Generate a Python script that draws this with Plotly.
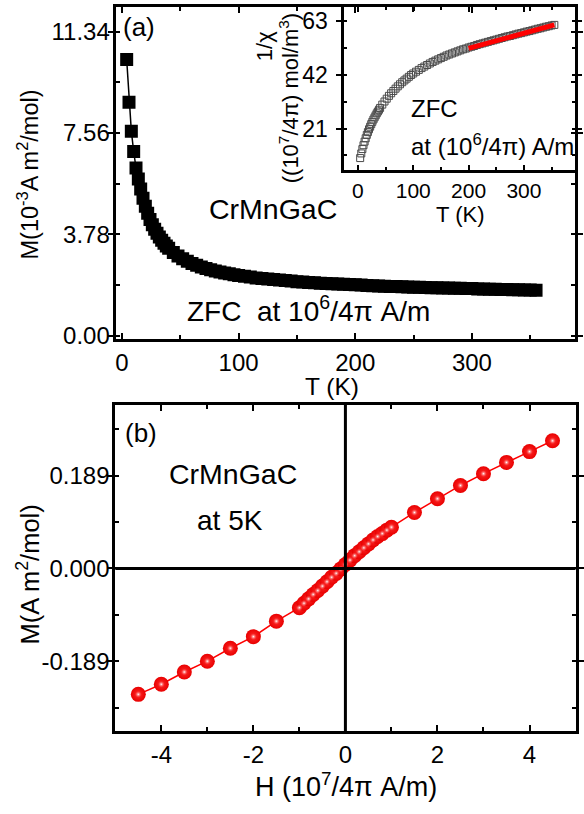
import plotly.graph_objects as go

W, H = 584, 814
FONT = "Liberation Sans, Arial, sans-serif"

# ---------------- (a) ZFC magnetization vs temperature ----------------
temp_k = [4, 6, 8, 10, 12, 14, 16, 18, 20, 22, 24, 26, 28, 30, 32, 34, 36, 38, 40,
          44, 48, 52, 56, 60, 64, 68, 72, 76, 80, 84, 88, 92, 96, 100,
          105, 110, 115, 120, 125, 130, 135, 140, 145, 150, 155, 160, 165, 170, 175,
          180, 185, 190, 195, 200, 205, 210, 215, 220, 225, 230, 235, 240, 245, 250,
          255, 260, 265, 270, 275, 280, 285, 290, 295, 300, 305, 310, 315, 320, 325,
          330, 335, 340, 345, 350, 355]
m_zfc = [10.30, 8.71, 7.63, 6.87, 6.26, 5.85, 5.47, 5.13, 4.83, 4.57, 4.34, 4.14, 3.97,
         3.82, 3.68, 3.56, 3.45, 3.35, 3.26,
         3.11, 2.98, 2.87, 2.78, 2.70, 2.63, 2.57, 2.51, 2.46, 2.42, 2.38, 2.34, 2.31,
         2.28, 2.25,
         2.22, 2.19, 2.16, 2.14, 2.12, 2.10, 2.08, 2.06, 2.04, 2.02, 2.01, 1.99, 1.98,
         1.96, 1.95, 1.94, 1.93, 1.92, 1.91, 1.90, 1.89, 1.88, 1.87, 1.86, 1.85, 1.84,
         1.84, 1.83, 1.82, 1.81, 1.81, 1.80, 1.79, 1.79, 1.78, 1.78, 1.77, 1.77, 1.76,
         1.76, 1.75, 1.75, 1.74, 1.74, 1.73, 1.73, 1.72, 1.72, 1.71, 1.71, 1.70]

# inset: inverse susceptibility and the high-temperature linear fit
inv_chi = [9.5, 11.3, 13.0, 14.5, 15.9, 17.2, 18.5, 19.6, 20.7, 21.7, 22.7, 23.6, 24.5,
           25.3, 26.1, 26.9, 27.6, 28.3, 29.0,
           30.3, 31.5, 32.6, 33.7, 34.7, 35.6, 36.5, 37.4, 38.2, 39.0, 39.7, 40.4, 41.1,
           41.8, 42.4,
           43.1, 43.8, 44.5, 45.1, 45.7, 46.3, 46.9, 47.4, 47.9, 48.4, 48.9, 49.4, 49.8,
           50.2, 50.6, 51.0, 51.4, 51.8, 52.1, 52.5, 52.8, 53.1, 53.5, 53.8, 54.1, 54.4,
           54.7, 55.0, 55.3, 55.6, 55.9, 56.2, 56.5, 56.8, 57.0, 57.3, 57.6, 57.9, 58.1,
           58.4, 58.7, 58.9, 59.2, 59.5, 59.8, 60.0, 60.3, 60.6, 60.8, 61.1, 61.3]
fit_t = [200, 355]
fit_inv_chi = [52.2, 61.3]

# ---------------- (b) M(H) loop at 5 K ----------------
field_h = [-4.5, -4.0, -3.5, -3.0, -2.5, -2.0, -1.5,
           -1.0, -0.9, -0.8, -0.7, -0.6, -0.5, -0.4, -0.3, -0.2, -0.1,
           0.0, 0.1, 0.2, 0.3, 0.4, 0.5, 0.6, 0.7, 0.8, 0.9, 1.0,
           1.5, 2.0, 2.5, 3.0, 3.5, 4.0, 4.5]
m_h = [-0.2565, -0.236, -0.211, -0.189, -0.1626, -0.139, -0.1074,
       -0.080, -0.071, -0.062, -0.053, -0.045, -0.036, -0.027, -0.018, -0.010, -0.001,
       0.008, 0.017, 0.026, 0.034, 0.042, 0.050, 0.058, 0.065, 0.071, 0.078, 0.084,
       0.114, 0.142, 0.169, 0.193, 0.216, 0.238, 0.260]

# tick labels
a_xticks = [0, 100, 200, 300]
a_yticks = [0.0, 3.78, 7.56, 11.34]
a_yticktext = ["0.00", "3.78", "7.56", "11.34"]
ins_xticks = [0, 100, 200, 300]
ins_yticks = [21, 42, 63]
b_xticks = [-4, -2, 0, 2, 4]
b_xticktext = ["-4", "-2", "0", "2", "4"]
b_yticks = [-0.189, 0.0, 0.189]
b_yticktext = ["-0.189", "0.000", "0.189"]


def px_x(p):
    return p / W


def px_y(p):
    return 1 - p / H


fig = go.Figure()

# main ZFC curve
fig.add_trace(go.Scatter(
    x=temp_k, y=m_zfc, xaxis="x", yaxis="y", mode="lines+markers",
    line=dict(color="black", width=1.5),
    marker=dict(symbol="square", size=13, color="black", line=dict(width=0)),
    showlegend=False))

# inset 1/chi
fig.add_trace(go.Scatter(
    x=temp_k, y=inv_chi, xaxis="x2", yaxis="y2", mode="markers",
    marker=dict(symbol="square-open", size=7, color="#4a4a4a", line=dict(width=1)),
    showlegend=False))
fig.add_trace(go.Scatter(
    x=fit_t, y=fit_inv_chi, xaxis="x2", yaxis="y2", mode="lines",
    line=dict(color="#ff0000", width=5), showlegend=False))

# M(H) balls (radial gradient: marker colour at the rim, gradient colour at the centre)
fig.add_trace(go.Scatter(
    x=field_h, y=m_h, xaxis="x3", yaxis="y3", mode="lines+markers",
    line=dict(color="#ff0000", width=1.5),
    marker=dict(size=15, color="#e80000", line=dict(width=0),
                gradient=dict(type="radial", color="#ff2a2a")),
    showlegend=False))
# specular highlight drawn on a copy of the axes shifted a few pixels up-right
fig.add_trace(go.Scatter(
    x=field_h, y=m_h, xaxis="x4", yaxis="y4", mode="markers",
    marker=dict(size=7, color="rgba(255,60,60,0)", line=dict(width=0),
                gradient=dict(type="radial", color="white")),
    showlegend=False, hoverinfo="skip"))

axis_common = dict(
    showline=True, linewidth=3, linecolor="black", mirror="allticks",
    showgrid=False, zeroline=False, ticks="inside", ticklen=6, tickwidth=2,
    tickcolor="black", tickfont=dict(family=FONT, size=24, color="black"),
)

# panel (a)
a_left, a_right, a_top, a_bot = 117, 581.5, 7, 343
fig.update_layout(
    xaxis=dict(axis_common, domain=[px_x(a_left), px_x(a_right)], range=[-5.5, 388],
               tickmode="array", tickvals=a_xticks, anchor="y",
               minor=dict(dtick=50, tick0=0, ticks="inside", ticklen=4, tickwidth=2,
                          tickcolor="black")),
    yaxis=dict(axis_common, domain=[px_y(a_bot), px_y(a_top)], range=[-0.11, 12.26],
               tickmode="array", tickvals=a_yticks, ticktext=a_yticktext, anchor="x",
               ticks="outside", ticklen=5, ticklabelstandoff=-7,
               minor=dict(dtick=1.89, tick0=0, ticks="inside", ticklen=4, tickwidth=2,
                          tickcolor="black")),
)

# inset
i_left, i_right, i_top, i_bot = 348.3, 581.5, 7, 172
ins_common = dict(axis_common, linewidth=2.5, ticklen=5,
                  tickfont=dict(family=FONT, size=21, color="black"))
fig.update_layout(
    xaxis2=dict(ins_common, domain=[px_x(i_left), px_x(i_right)], range=[-25, 391.5],
                tickmode="array", tickvals=ins_xticks, anchor="y2",
                minor=dict(dtick=50, tick0=0, ticks="inside", ticklen=3, tickwidth=2,
                           tickcolor="black")),
    yaxis2=dict(ins_common, domain=[px_y(i_bot), px_y(i_top)], range=[4.9, 68.3],
                tickmode="array", tickvals=ins_yticks, anchor="x2", ticks="outside",
                ticklabelstandoff=4,
                tickfont=dict(family=FONT, size=23, color="black"),
                minor=dict(dtick=10.5, tick0=0, ticks="inside", ticklen=3, tickwidth=2,
                           tickcolor="black")),
)

# panel (b)
b_left, b_right, b_top, b_bot = 116.7, 582.5, 410, 740
b_xrange = [-5, 5]
b_yrange = [-0.331, 0.333]
fig.update_layout(
    xaxis3=dict(axis_common, domain=[px_x(b_left), px_x(b_right)], range=b_xrange,
                tickmode="array", tickvals=b_xticks, ticktext=b_xticktext, anchor="y3",
                minor=dict(dtick=1, tick0=0, ticks="inside", ticklen=4, tickwidth=2,
                           tickcolor="black")),
    yaxis3=dict(axis_common, domain=[px_y(b_bot), px_y(b_top)], range=b_yrange,
                tickmode="array", tickvals=b_yticks, ticktext=b_yticktext, anchor="x3",
                ticks="outside", ticklen=5, ticklabelstandoff=-7,
                minor=dict(dtick=0.0945, tick0=0, ticks="inside", ticklen=4, tickwidth=2,
                           tickcolor="black")),
    xaxis4=dict(domain=[px_x(b_left + 1), px_x(b_right + 1)], range=b_xrange,
                visible=False, anchor="y4", overlaying="x3"),
    yaxis4=dict(domain=[px_y(b_bot + 3), px_y(b_top + 3)], range=b_yrange,
                visible=False, anchor="x4", overlaying="y3"),
)

# zero lines of panel (b), drawn over the data
fig.add_shape(type="line", xref="x3", yref="y3 domain", x0=0, x1=0, y0=0, y1=1,
              line=dict(color="black", width=3), layer="above")
fig.add_shape(type="line", xref="x3 domain", yref="y3", x0=0, x1=1, y0=0, y1=0,
              line=dict(color="black", width=3), layer="above")


def label(text, x, y, size, angle=0, xanchor="center"):
    fig.add_annotation(text=text, x=px_x(x), y=px_y(y), xref="paper", yref="paper",
                       showarrow=False, textangle=angle, xanchor=xanchor,
                       yanchor="middle", borderpad=0,
                       font=dict(family=FONT, size=size, color="black"))


# panel (a) texts
label("(a)", 141, 27, 26)
label("CrMnGaC", 276, 212, 28.5)
label("ZFC&nbsp; at 10<sup>6</sup>/4π A/m", 312, 313, 28)
label("T (K)", 336, 391, 24.5)
label("M(10<sup>-3</sup>A m<sup>2</sup>/mol)", 28, 177, 23.5, angle=-90)
# inset texts
label("ZFC", 415, 110, 24, xanchor="left")
label("at (10<sup>6</sup>/4π) A/m", 415, 147, 24, xanchor="left")
label("T (K)", 466, 217, 22)
label("1/χ", 268, 47, 22, angle=-90)
label("((10<sup>7</sup>/4π) mol/m<sup>3</sup>)", 292, 100, 22, angle=-90)
# panel (b) texts
label("(b)", 143, 438, 26)
label("CrMnGaC", 236, 480, 28.5)
label("at 5K", 233, 527, 28)
label("M(A m<sup>2</sup>/mol)", 28, 582, 25.5, angle=-90)
label("H (10<sup>7</sup>/4π A/m)", 350, 795, 27)

fig.update_layout(
    width=W, height=H, margin=dict(l=0, r=0, t=0, b=0),
    paper_bgcolor="white", plot_bgcolor="rgba(0,0,0,0)",
    font=dict(family=FONT, color="black"),
)

fig.write_html("out.html")
